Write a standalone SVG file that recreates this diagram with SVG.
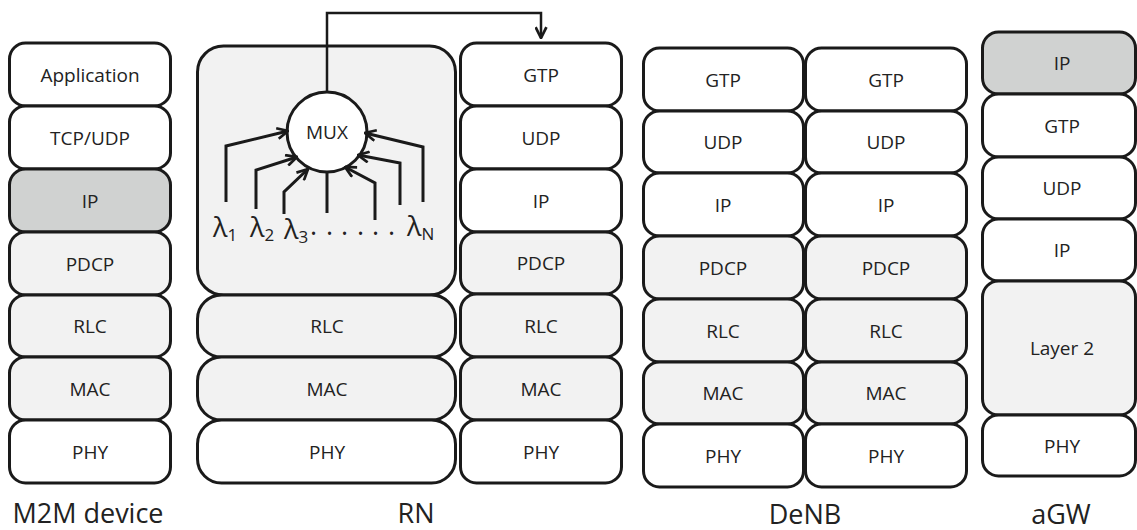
<svg xmlns="http://www.w3.org/2000/svg" width="1137" height="530" viewBox="0 0 1137 530">
<defs>
<style>
.b{stroke:#1a1a1a;stroke-width:3;fill:#fff}
.g{fill:#f2f2f2}
.d{fill:#d0d2d1}
.t{font-family:"Open Sans","Liberation Sans",sans-serif;font-size:19px;fill:#222;text-anchor:middle}
.L{font-family:"Open Sans","Liberation Sans",sans-serif;font-size:27px;fill:#222;text-anchor:middle}
.lam{font-family:"Open Sans","Liberation Sans",sans-serif;font-size:27px;fill:#222}
.sub{font-size:17px}
.c{fill:none;stroke:#1a1a1a;stroke-width:3}
.c2{fill:none;stroke:#1a1a1a;stroke-width:2.5}
</style>
<marker id="ah" markerUnits="userSpaceOnUse" viewBox="0 0 12 12" refX="11" refY="6" markerWidth="13" markerHeight="13" orient="auto">
<path d="M1,1 L11,6 L1,11" fill="none" stroke="#1a1a1a" stroke-width="2.5"/>
</marker>
</defs>
<rect width="1137" height="530" fill="#fff"/>

<g id="m2m">
<rect class="b" x="9.5" y="43" width="161" height="63" rx="16"/><text class="t" x="90" y="81.5">Application</text>
<rect class="b" x="9.5" y="106" width="161" height="63" rx="16"/><text class="t" x="90" y="144.5">TCP/UDP</text>
<rect class="b d" x="9.5" y="169" width="161" height="63" rx="16"/><text class="t" x="90" y="207.5">IP</text>
<rect class="b g" x="9.5" y="232" width="161" height="63" rx="16"/><text class="t" x="90" y="270.5">PDCP</text>
<rect class="b g" x="9.5" y="295" width="161" height="62" rx="16"/><text class="t" x="90" y="333">RLC</text>
<rect class="b g" x="9.5" y="357" width="161" height="63" rx="16"/><text class="t" x="90" y="395.5">MAC</text>
<rect class="b" x="9.5" y="420" width="161" height="63" rx="16"/><text class="t" x="90" y="458.5">PHY</text>
<text class="L" x="88" y="523">M2M device</text>
</g>

<g id="rn">
<rect class="b g" x="197.5" y="46" width="258" height="249" rx="26"/>
<rect class="b g" x="197.5" y="295" width="258" height="62" rx="24"/><text class="t" x="327" y="333">RLC</text>
<rect class="b g" x="197.5" y="357" width="258" height="63" rx="24"/><text class="t" x="327" y="395.5">MAC</text>
<rect class="b" x="197.5" y="420" width="258" height="63" rx="24"/><text class="t" x="327" y="458.5">PHY</text>
<rect class="b" x="460.5" y="43" width="161" height="63" rx="16"/><text class="t" x="541" y="81.5">GTP</text>
<rect class="b" x="460.5" y="106" width="161" height="63" rx="16"/><text class="t" x="541" y="144.5">UDP</text>
<rect class="b" x="460.5" y="169" width="161" height="63" rx="16"/><text class="t" x="541" y="207.5">IP</text>
<rect class="b g" x="460.5" y="232" width="161" height="62" rx="16"/><text class="t" x="541" y="270">PDCP</text>
<rect class="b g" x="460.5" y="294" width="161" height="63" rx="16"/><text class="t" x="541" y="332.5">RLC</text>
<rect class="b g" x="460.5" y="357" width="161" height="63" rx="16"/><text class="t" x="541" y="395.5">MAC</text>
<rect class="b" x="460.5" y="420" width="161" height="63" rx="16"/><text class="t" x="541" y="458.5">PHY</text>
<text class="L" x="416" y="523">RN</text>
</g>

<g id="mux">
<circle class="b" cx="327" cy="132" r="40"/>
<text class="t" x="327" y="139">MUX</text>
</g>

<g id="lambdas">
<text class="lam" x="213" y="237">λ<tspan class="sub" dy="4">1</tspan></text>
<text class="lam" x="250" y="237">λ<tspan class="sub" dy="4">2</tspan></text>
<text class="lam" x="284" y="239">λ<tspan class="sub" dy="4">3</tspan></text>
<text class="lam" x="310 326 341 357 372 388" y="235">......</text>
<text class="lam" x="407" y="236">λ<tspan class="sub" dy="4">N</tspan></text>
</g>

<g id="connectors">
<polyline class="c2" points="327,92 327,13 541,13 541,38" marker-end="url(#ah)"/>
<polyline class="c" points="226,202 226,146 288,131" marker-end="url(#ah)"/>
<polyline class="c" points="256,209 256,170 297,157" marker-end="url(#ah)"/>
<polyline class="c" points="284,214 284,192 308,169" marker-end="url(#ah)"/>
<polyline class="c" points="327,213 327,172"/>
<polyline class="c" points="375,220 375,183 345,167" marker-end="url(#ah)"/>
<polyline class="c" points="400,205 400,163 358,155" marker-end="url(#ah)"/>
<polyline class="c" points="423,202 423,147 365,133" marker-end="url(#ah)"/>
</g>

<g id="denb">
<rect class="b" x="643.5" y="48" width="160" height="63" rx="16"/><text class="t" x="723" y="86.5">GTP</text>
<rect class="b" x="643.5" y="111" width="160" height="62" rx="16"/><text class="t" x="723" y="149">UDP</text>
<rect class="b" x="643.5" y="173" width="160" height="63" rx="16"/><text class="t" x="723" y="211.5">IP</text>
<rect class="b g" x="643.5" y="236" width="160" height="63" rx="16"/><text class="t" x="723" y="274.5">PDCP</text>
<rect class="b g" x="643.5" y="299" width="160" height="63" rx="16"/><text class="t" x="723" y="337.5">RLC</text>
<rect class="b g" x="643.5" y="362" width="160" height="62" rx="16"/><text class="t" x="723" y="400">MAC</text>
<rect class="b" x="643.5" y="424" width="160" height="63" rx="16"/><text class="t" x="723" y="462.5">PHY</text>
<rect class="b" x="805.5" y="48" width="161" height="63" rx="16"/><text class="t" x="886" y="86.5">GTP</text>
<rect class="b" x="805.5" y="111" width="161" height="62" rx="16"/><text class="t" x="886" y="149">UDP</text>
<rect class="b" x="805.5" y="173" width="161" height="63" rx="16"/><text class="t" x="886" y="211.5">IP</text>
<rect class="b g" x="805.5" y="236" width="161" height="63" rx="16"/><text class="t" x="886" y="274.5">PDCP</text>
<rect class="b g" x="805.5" y="299" width="161" height="63" rx="16"/><text class="t" x="886" y="337.5">RLC</text>
<rect class="b g" x="805.5" y="362" width="161" height="62" rx="16"/><text class="t" x="886" y="400">MAC</text>
<rect class="b" x="805.5" y="424" width="161" height="63" rx="16"/><text class="t" x="886" y="462.5">PHY</text>
<text class="L" x="805" y="524">DeNB</text>
</g>

<g id="agw">
<rect class="b d" x="982.5" y="32" width="153" height="62" rx="16"/><text class="t" x="1062" y="70">IP</text>
<rect class="b" x="982.5" y="94" width="153" height="63" rx="16"/><text class="t" x="1062" y="132.5">GTP</text>
<rect class="b" x="982.5" y="157" width="153" height="62" rx="16"/><text class="t" x="1062" y="195">UDP</text>
<rect class="b" x="982.5" y="219" width="153" height="62" rx="16"/><text class="t" x="1062" y="257">IP</text>
<rect class="b g" x="982.5" y="281" width="153" height="134" rx="16"/><text class="t" x="1062" y="355">Layer 2</text>
<rect class="b" x="982.5" y="415" width="153" height="61" rx="16"/><text class="t" x="1062" y="452.5">PHY</text>
<text class="L" x="1061" y="524">aGW</text>
</g>
</svg>
